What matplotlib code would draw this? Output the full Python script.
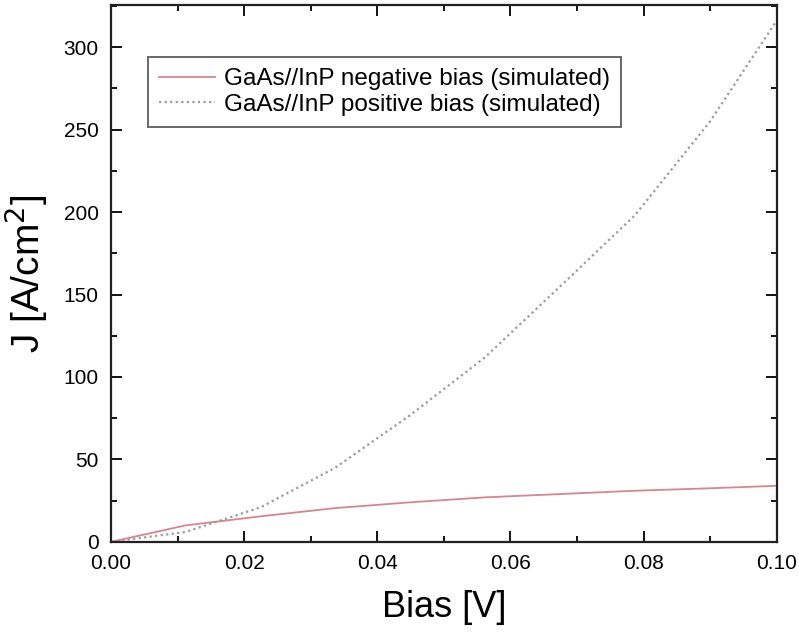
import matplotlib.pyplot as plt
from matplotlib.ticker import MultipleLocator

# values
bias = [0.0, 0.0112, 0.0225, 0.0337, 0.045, 0.0562, 0.0675, 0.0787, 0.09, 0.1]
j_negative = [0.0, 10.0, 15.5, 20.5, 24.0, 27.0, 29.0, 31.0, 32.5, 34.0]
j_positive = [0.0, 6.0, 21.0, 45.0, 77.0, 112.0, 155.0, 198.0, 255.0, 316.0]

label_neg = "GaAs//InP negative bias (simulated)"
label_pos = "GaAs//InP positive bias (simulated)"

plt.rcParams["font.family"] = ["Liberation Sans", "DejaVu Sans"]

fig = plt.figure(figsize=(7.99, 6.36), dpi=100)
ax = fig.add_axes([0.139, 0.148, 0.833, 0.844])

ax.plot(bias, j_negative, color="#d6868c", lw=1.3, label=label_neg)
ax.plot(bias, j_positive, color="#9a9a9a", lw=1.6, ls=(0, (1, 1.5)), label=label_pos)

ax.set_xlim(0, 0.1)
ax.set_ylim(0, 325.5)
ax.xaxis.set_major_locator(MultipleLocator(0.02))
ax.xaxis.set_minor_locator(MultipleLocator(0.01))
ax.yaxis.set_major_locator(MultipleLocator(50))
ax.yaxis.set_minor_locator(MultipleLocator(25))
ax.xaxis.set_major_formatter(lambda v, p: f"{v:.2f}")

ax.tick_params(which="both", direction="in", top=True, right=True, labelsize=15, width=1.3)
ax.tick_params(which="major", length=8, pad=9)
ax.tick_params(which="minor", length=4)
for s in ax.spines.values():
    s.set_linewidth(1.6)
    s.set_color("#222222")

ax.set_xlabel("Bias [V]", fontsize=26, labelpad=12)
ax.set_ylabel("J [A/cm$^2$]", fontsize=28, labelpad=10)

leg = ax.legend(loc="upper left", bbox_to_anchor=(0.056, 0.903), borderaxespad=0,
                fontsize=17.5, frameon=True, fancybox=False, edgecolor="#333333",
                handlelength=2.3, handletextpad=0.35, borderpad=0.45, labelspacing=0.15)
leg.get_frame().set_linewidth(1.3)

fig.savefig("out.png", dpi=100)
